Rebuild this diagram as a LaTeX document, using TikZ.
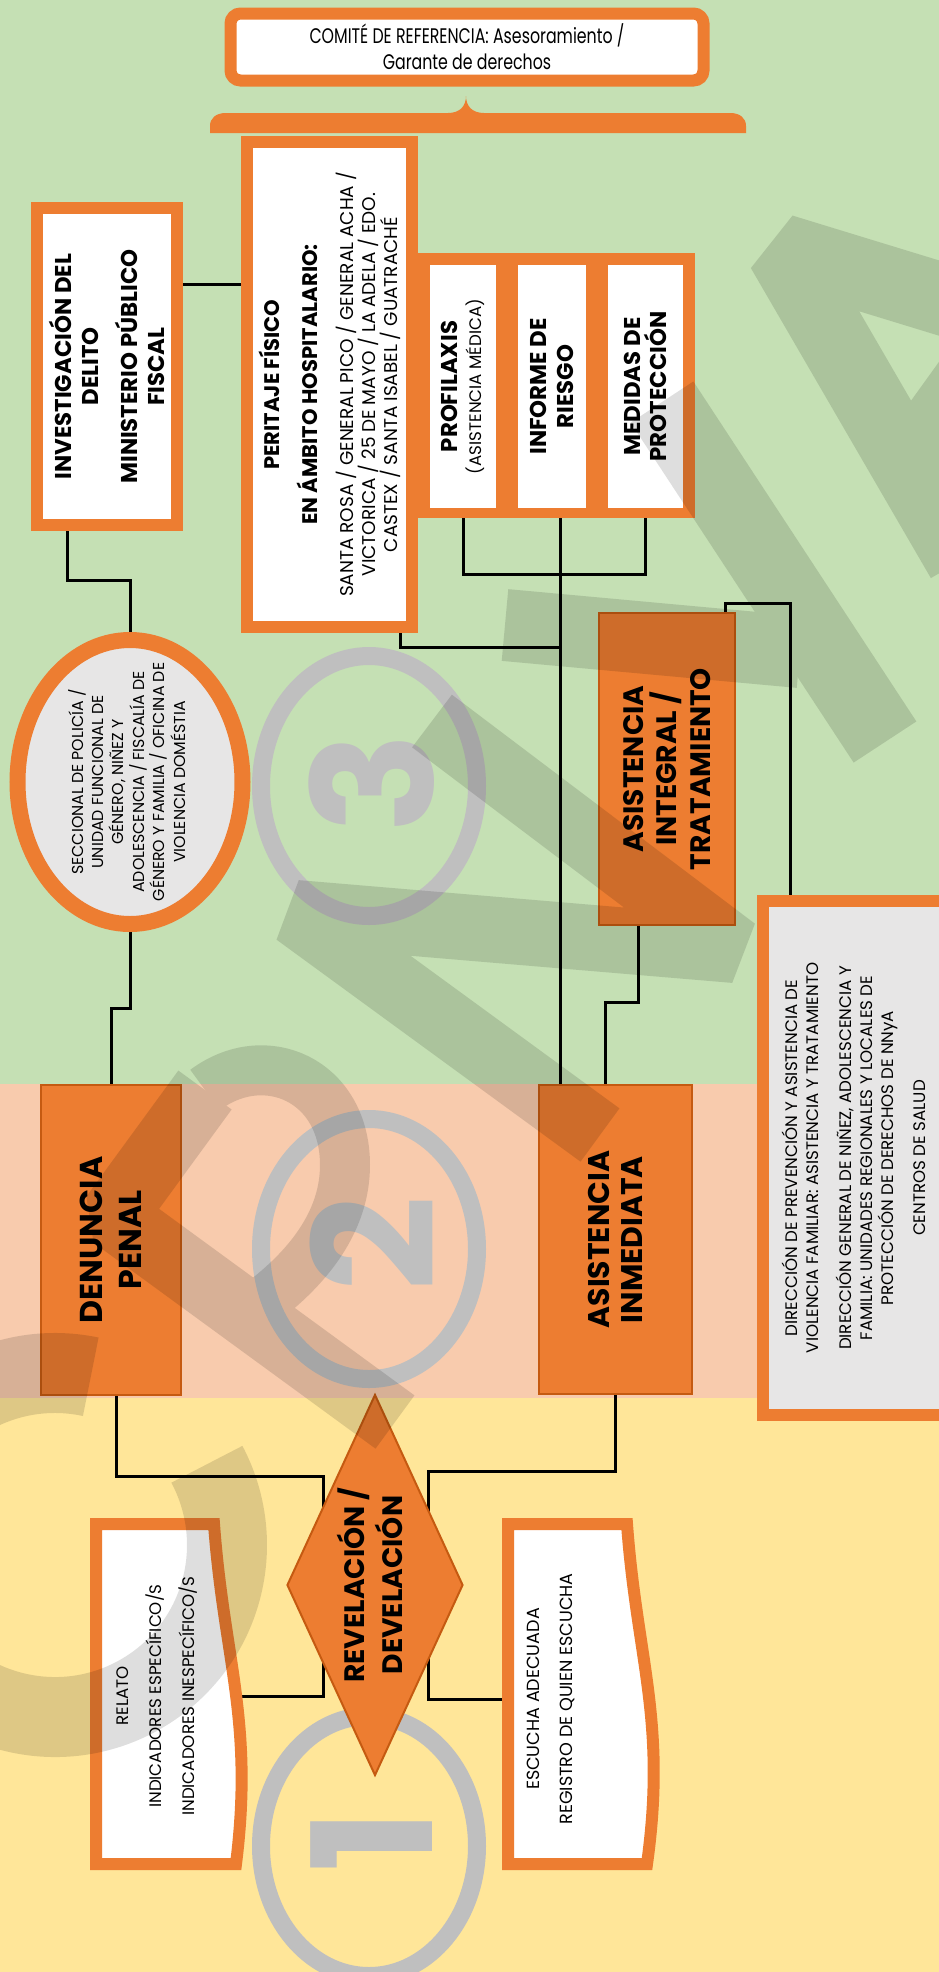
\documentclass[tikz,border=0pt]{standalone}
\usepackage{fontspec}
\setmainfont{Poppins}
\newfontfamily\narrowfont[FakeStretch=0.75]{Poppins}
\usetikzlibrary{shapes.geometric}
\definecolor{leaf}{HTML}{C5E0B4}
\definecolor{blush}{HTML}{F8CBAD}
\definecolor{sand}{HTML}{FFE699}
\definecolor{tang}{HTML}{ED7D31}
\definecolor{rust}{HTML}{C55A11}
\definecolor{mist}{HTML}{E7E6E6}
\definecolor{ash}{HTML}{BFBFBF}
\pgfdeclarelayer{bg}
\pgfdeclarelayer{wires}
\pgfdeclarelayer{fg}
\pgfsetlayers{bg,wires,main,fg}

\begin{document}
\begin{tikzpicture}[x=0.02cm, y=-0.02cm,
  wire/.style={line width=3*\px},
  boxed/.style={draw=tang, line width=12*\px, fill=white, inner sep=0pt},
  block/.style={draw=rust, line width=2*\px, fill=tang, inner sep=0pt},
  turned/.style={rotate=90, align=center},
  ring/.style={draw=ash, line width=18*\px},
  digit/.style={rotate=90, text=ash, inner sep=0pt, font=\fontsize{95}{95}\selectfont\bfseries},
  band/.style={line width=#1*\px, line join=bevel}]
\def\px{0.02cm} % one pixel of the page
\useasboundingbox (0,0) rectangle (939,1972);

\begin{pgfonlayer}{bg}
\fill[leaf] (0,0) rectangle (939,1084);
\fill[blush] (0,1084) rectangle (939,1398);
\fill[sand] (0,1398) rectangle (939,1972);
\end{pgfonlayer}

\begin{scope}
\clip (0,0) rectangle (939,1972);
\foreach \n/\cy/\dy in {3/786/783, 2/1249/1244, 1/1846/1841}
{
	\draw[ring] (369,\cy) ellipse [x radius=108, y radius=130];
	\node[digit] (num\n) at (372,\dy) {\n};
}

\node[boxed, rounded corners=10*\px, minimum width=473*\px, minimum height=67*\px, align=center,
  font=\narrowfont\fontsize{12}{14.7}\selectfont] (comite) at (467,47)
  {COMITÉ DE REFERENCIA: Asesoramiento /\\Garante de derechos};
\fill[tang] (210,133) -- (210,126) .. controls (210,118) and (216,113) .. (226,113) -- (448,113)
  .. controls (460,113) and (466,106) .. (466,96) .. controls (466,106) and (472,113) .. (484,113)
  -- (730,113) .. controls (740,113) and (746,118) .. (746,126) -- (746,133) -- cycle;

\node[boxed, turned, minimum width=317*\px, minimum height=140*\px,
  font=\fontsize{13}{15.3}\selectfont\bfseries] (inv) at (107,366.5)
  {INVESTIGACIÓN DEL\\DELITO\\[6.8pt]MINISTERIO PÚBLICO\\FISCAL};

\fill[tang] (405,253) rectangle (695,518);
\node[boxed, turned, minimum width=485*\px, minimum height=165*\px,
  font=\fontsize{10.5}{12.5}\selectfont] (perit) at (329.5,384.5)
  {\fontsize{12}{12}\selectfont\bfseries PERITAJE FÍSICO\\[9.5pt]
   \fontsize{12}{12}\selectfont\bfseries EN ÁMBITO HOSPITALARIO:\\[7.9pt]
   SANTA ROSA / GENERAL PICO / GENERAL ACHA /\\
   VICTORICA / 25 DE MAYO / LA ADELA / EDO.\\
   CASTEX / SANTA ISABEL / GUATRACHÉ};
\node[fill=white, turned, inner sep=0pt, minimum width=243*\px, minimum height=66*\px,
  font=\fontsize{13}{13.6}\selectfont\bfseries] (profi) at (463,386.5)
  {PROFILAXIS\\\fontsize{9.5}{9.5}\selectfont\mdseries (ASISTENCIA MÉDICA)};
\node[fill=white, turned, inner sep=0pt, minimum width=243*\px, minimum height=68*\px,
  font=\fontsize{13}{15.3}\selectfont\bfseries] (inforiesgo) at (552,386.5) {INFORME DE\\RIESGO};
\node[fill=white, turned, inner sep=0pt, minimum width=243*\px, minimum height=75*\px,
  font=\fontsize{13}{15.3}\selectfont\bfseries] (medidas) at (645.5,386.5) {MEDIDAS DE\\PROTECCIÓN};

\node[boxed, fill=mist, ellipse, rotate=90, line width=16*\px, minimum width=284*\px,
  minimum height=225*\px, font=\fontsize{9}{11}\selectfont] (sec) at (130,782)
  {\makebox[0pt]{\begin{tabular}{@{}c@{}}SECCIONAL DE POLICÍA /\\UNIDAD FUNCIONAL DE\\
   GÉNERO, NIÑEZ Y\\ADOLESCENCIA / FISCALÍA DE\\GÉNERO Y FAMILIA / OFICINA DE\\
   VIOLENCIA DOMÉSTIA\end{tabular}}};

\node[block, turned, minimum width=312*\px, minimum height=136*\px,
  font=\fontsize{16}{19.3}\selectfont\bfseries] (asint) at (667,769)
  {ASISTENCIA\\INTEGRAL /\\TRATAMIENTO};
\node[boxed, fill=mist, turned, minimum width=514*\px, minimum height=182*\px,
  font=\fontsize{9.5}{11.9}\selectfont] (dir) at (854,1158)
  {DIRECCIÓN DE PREVENCIÓN Y ASISTENCIA DE\\VIOLENCIA FAMILIAR: ASISTENCIA Y TRATAMIENTO\\[6.8pt]
   DIRECCIÓN GENERAL DE NIÑEZ, ADOLESCENCIA Y\\FAMILIA: UNIDADES REGIONALES Y LOCALES DE\\
   PROTECCIÓN DE DERECHOS DE NNyA\\[6.8pt]CENTROS DE SALUD};

\node[block, turned, minimum width=310*\px, minimum height=140*\px,
  font=\fontsize{18}{22}\selectfont\bfseries] (den) at (111,1240) {DENUNCIA\\PENAL};
\node[block, turned, minimum width=309*\px, minimum height=153*\px,
  font=\fontsize{17}{18.7}\selectfont\bfseries] (asinm) at (615.5,1239.5) {ASISTENCIA\\INMEDIATA};

\node[block, diamond, rotate=90, shape aspect=2.16, minimum width=381*\px, minimum height=176*\px,
  font=\fontsize{16}{20.4}\selectfont\bfseries] (rev) at (375,1585)
  {\makebox[0pt]{\begin{tabular}{@{}c@{}}REVELACIÓN /\\DEVELACIÓN\end{tabular}}};

\filldraw[fill=white, draw=tang, line width=12*\px] (96,1524) -- (214,1524)
  .. controls (224,1660) and (254,1720) .. (236,1864) -- (96,1864) -- cycle;
\node[turned, minimum height=168*\px, font=\fontsize{9.5}{18.7}\selectfont] (relato) at (157,1696)
  {RELATO\\INDICADORES ESPECÍFICO/S\\INDICADORES INESPECÍFICO/S};
\filldraw[fill=white, draw=tang, line width=12*\px] (508,1524) -- (627,1524)
  .. controls (637,1660) and (667,1720) .. (647,1864) -- (508,1864) -- cycle;
\node[turned, minimum height=98*\px, font=\fontsize{10}{18.7}\selectfont] (escucha) at (551,1699)
  {ESCUCHA ADECUADA\\REGISTRO DE QUIEN ESCUCHA};
\end{scope}

\coordinate (trunk) at (560,647);
\begin{pgfonlayer}{wires}
\draw[wire] (inv.south |- 0,284) -- (perit.north |- 0,284);
\draw[wire] (inv.west -| 67,0) |- (sec.east |- 0,580) -- (sec.east);
\draw[wire] (sec.west) |- (den.east |- 0,1008) -- (den.east);
\draw[wire] (perit.west -| 400,0) |- (trunk);
\draw[wire] (inforiesgo.west -| trunk) -- (asinm.east -| trunk);
\draw[wire] (profi.west) |- (medidas.west |- 0,574) -- (medidas.west);
\draw[wire] (asint.west -| 638,0) -- (638,1002) -| (asinm.east -| 605,0);
\draw[wire] (asint.east -| 725,0) -- (725,603) -| (dir.east -| 790,0);
\draw[wire] (den.west -| 116,0) |- (323,1476) |- (relato.south);
\draw[wire] (asinm.west -| 615,0) |- (428,1471) |- (escucha.north);
\end{pgfonlayer}

\begin{pgfonlayer}{fg}
\clip (0,0) rectangle (939,1972);
\begin{scope}[transparency group, opacity=0.13]
\draw[band=72] (965,306) -- (782,250) -- (962,560);
\draw[band=55] (895,470) -- (985,345);
\draw[band=75] (662,402) -- (885,742);
\draw[band=72] (505,625) -- (800,652);
\draw[band=66] (432,721) -- (735,950) -- (296,913) -- (600,1135);
\draw[band=66] (395,1422) -- (113,1216) -- (205,1090);
\draw[band=50] (205,1090) .. controls (265,1045) and (345,1080) .. (345,1165)
  .. controls (345,1220) and (310,1265) .. (265,1300);
\draw[band=80] (55,1545) ++(-78:172) arc [start angle=-78, end angle=-388, radius=172];
\end{scope}
\end{pgfonlayer}
\end{tikzpicture}
\end{document}
